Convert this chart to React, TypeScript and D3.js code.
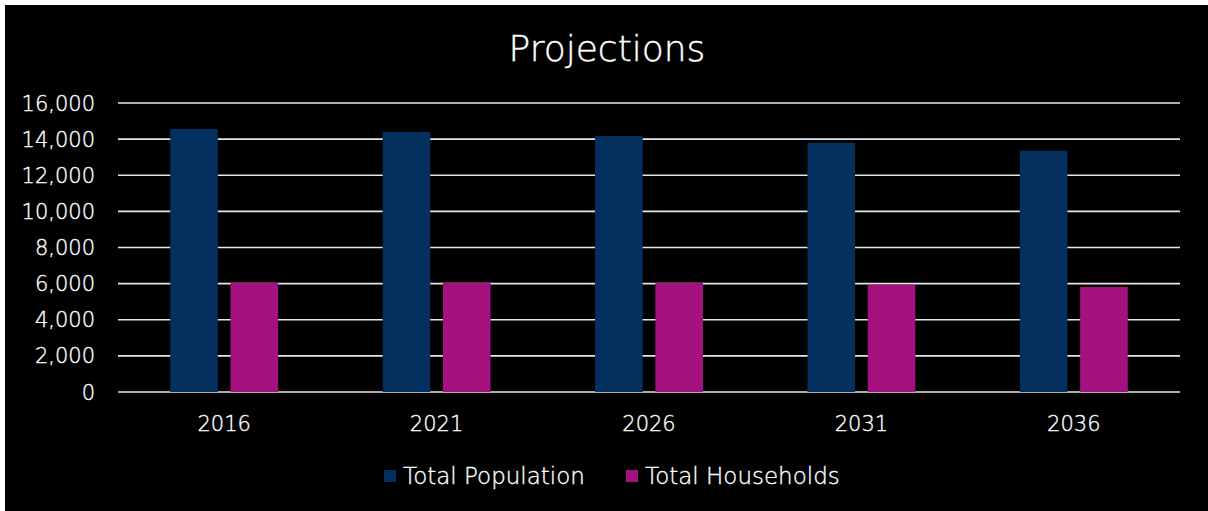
import React from "react";
import * as d3 from "d3";

const categories = ["2016", "2021", "2026", "2031", "2036"];
const seriesNames = ["Total Population", "Total Households"];
const populationValues = [14560, 14400, 14170, 13800, 13360];
const householdValues = [6050, 6050, 6040, 5940, 5810];
const yTicks = [0, 2000, 4000, 6000, 8000, 10000, 12000, 14000, 16000];
const colors = ["#03305F", "#A5117F"];
const title = "Projections";

const W = 1208;
const H = 511;
const FONT = "'DejaVu Sans', 'Noto Sans', sans-serif";

export default function App() {
  const plotLeft = 118;
  const plotRight = 1180;
  const plotTop = 103;
  const plotBottom = 392;

  const x = d3.scaleBand<string>().domain(categories).range([plotLeft, plotRight]).padding(0);
  const y = d3.scaleLinear().domain([0, 16000]).range([plotBottom, plotTop]);
  const bw = x.bandwidth();
  const barW = bw * 0.224;
  const gap = bw * 0.06;
  const fmt = d3.format(",");
  const series = [populationValues, householdValues];

  return (
    <svg
      width={W}
      height={H}
      style={{ position: "absolute", left: 0, top: 0, display: "block" }}
    >
      <rect x={0} y={0} width={W} height={H} fill="#ffffff" />
      <rect x={5} y={5} width={W - 5} height={H - 5} fill="#000000" />
      <text
        x={607}
        y={61}
        textAnchor="middle"
        fill="#ffffff"
        fontFamily={FONT}
        fontSize={36}
        fontWeight={200}
        stroke="#ffffff"
        strokeWidth={0.4}
      >
        {title}
      </text>
      {yTicks.map((t) => (
        <g key={t}>
          <line
            x1={plotLeft}
            x2={plotRight}
            y1={y(t)}
            y2={y(t)}
            stroke="#e6e6e6"
            strokeWidth={1.6}
          />
          <text
            x={95}
            y={y(t)}
            dy="0.36em"
            textAnchor="end"
            fill="#ffffff"
            fontFamily={FONT}
            fontSize={21}
            fontWeight={200}
            stroke="#ffffff"
            strokeWidth={0.35}
          >
            {fmt(t)}
          </text>
        </g>
      ))}
      {categories.map((c, i) => {
        const center = (x(c) as number) + bw / 2;
        return (
          <g key={c}>
            {series.map((vals, s) => {
              const bx = s === 0 ? center - gap / 2 - barW : center + gap / 2;
              return (
                <rect
                  key={s}
                  x={bx}
                  y={y(vals[i])}
                  width={barW}
                  height={plotBottom - y(vals[i])}
                  fill={colors[s]}
                />
              );
            })}
            <text
              x={center}
              y={431}
              textAnchor="middle"
              fill="#ffffff"
              fontFamily={FONT}
              fontSize={21}
              fontWeight={200}
              stroke="#ffffff"
              strokeWidth={0.35}
            >
              {c}
            </text>
          </g>
        );
      })}
      {[
        { sx: 384, tx: 403 },
        { sx: 626, tx: 645 },
      ].map((p, s) => (
        <g key={s}>
          <rect x={p.sx} y={470} width={12} height={12} fill={colors[s]} />
          <text
            x={p.tx}
            y={484}
            fill="#ffffff"
            fontFamily={FONT}
            fontSize={23}
            fontWeight={200}
            stroke="#ffffff"
            strokeWidth={0.35}
          >
            {seriesNames[s]}
          </text>
        </g>
      ))}
    </svg>
  );
}
